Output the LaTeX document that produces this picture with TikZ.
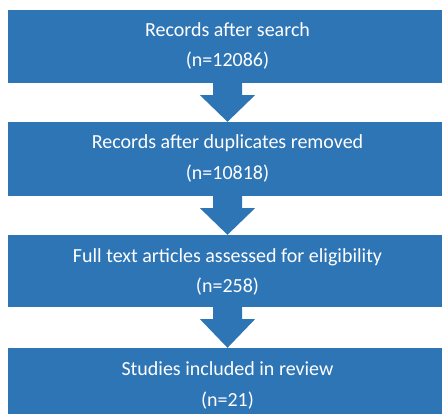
\documentclass[tikz,border=0pt]{standalone}
\usepackage{fontspec}
\setmainfont{Carlito}
\usetikzlibrary{calc}
\definecolor{boxblue}{RGB}{46,117,182}
\tikzset{
  flowbox/.style={fill=boxblue, draw=none, text=white, align=center, inner sep=0pt,
    minimum width=439pt, font=\fontsize{20}{30.5}\selectfont},
  flowtext/.style={text=white, font=\fontsize{20}{30.5}\selectfont, anchor=base, inner sep=0pt},
  flowarrow/.style={fill=boxblue, draw=none}
}
\begin{document}
\begin{tikzpicture}[x=1pt,y=-1pt]
\useasboundingbox (0,0) rectangle (442,414);
\node[flowbox, minimum height=73pt] (b1) at (227.5,46.5) {};
\node[flowbox, minimum height=74pt] (b2) at (227.5,159) {};
\node[flowbox, minimum height=72pt] (b3) at (227.5,271) {};
\node[flowbox, minimum height=72pt] (b4) at (227.5,384) {};
\node[flowtext] (t1a) at (227.5,37) {Records after search};
\node[flowtext] (t1b) at (227.5,67) {(n=12086)};
\node[flowtext] (t2a) at (227.5,149) {Records after duplicates removed};
\node[flowtext] (t2b) at (227.5,180) {(n=10818)};
\node[flowtext] (t3a) at (227.5,262) {Full text articles assessed for eligibility};
\node[flowtext] (t3b) at (227.5,293) {(n=258)};
\node[flowtext] (t4a) at (227.5,375) {Studies included in review};
\node[flowtext] (t4b) at (227.5,406) {(n=21)};
\foreach \a/\b in {b1/b2, b2/b3, b3/b4}{
  \fill[flowarrow] ($(\a.south)+(-14.5,0)$) -- ($(\a.south)+(14.5,0)$) -- ($(\a.south)+(14.5,12)$)
    -- ($(\a.south)+(27.5,12)$) -- (\b.north) -- ($(\a.south)+(-27.5,12)$) -- ($(\a.south)+(-14.5,12)$) -- cycle;
}
\end{tikzpicture}
\end{document}
